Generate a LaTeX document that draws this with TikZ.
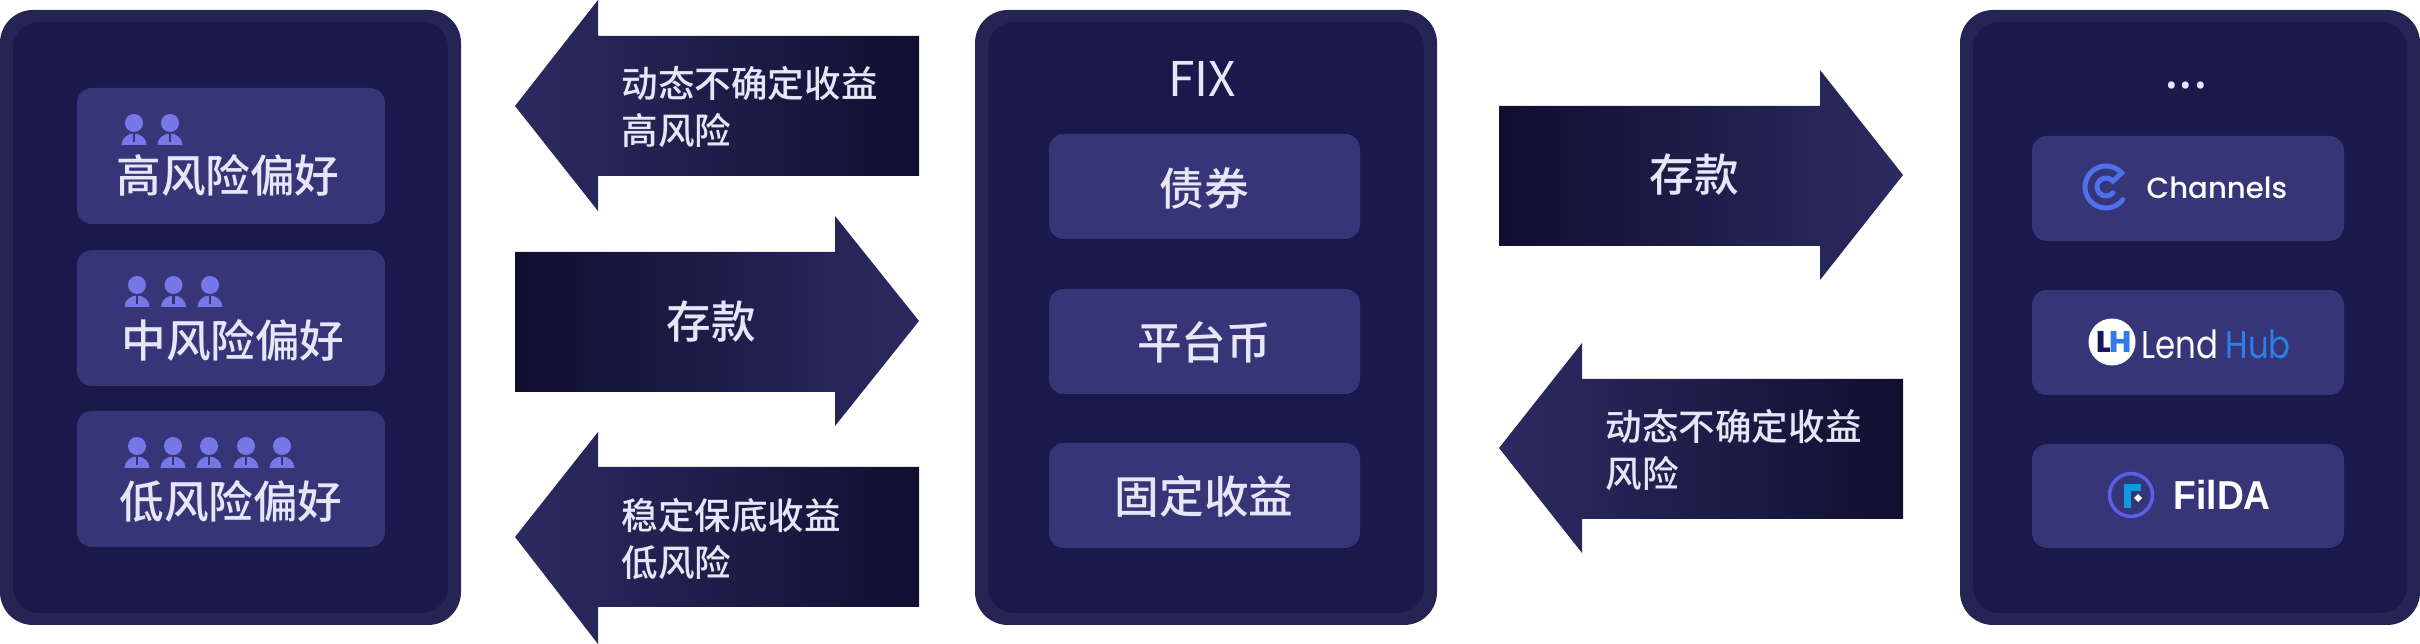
\documentclass[tikz,border=0pt]{standalone}
\usepackage{xcolor}
\usepackage{fontspec}
\setmainfont{Noto Sans CJK SC Medium}
\newfontfamily\titlefont{Noto Sans CJK SC}
\newfontfamily\logofont{Poppins Medium}
\newfontfamily\lendfont{Poppins}
\newfontfamily\fildafont{Liberation Sans}
\usepackage{tikz}
\usetikzlibrary{calc,positioning}
\definecolor{panelrim}{HTML}{242552}
\definecolor{panelfill}{HTML}{191A4B}
\definecolor{boxfill}{HTML}{353577}
\definecolor{labeltext}{HTML}{E6E6F8}
\definecolor{personfill}{HTML}{7678E8}
\definecolor{arrowhead}{HTML}{2B2B62}
\definecolor{arrowtail}{HTML}{100F30}
\definecolor{channelblue}{HTML}{4F70E8}
\definecolor{hubblue}{HTML}{2E7DE8}
\definecolor{lhnavy}{HTML}{17175C}
\definecolor{fildaring}{HTML}{5A5FE8}
\definecolor{fildablue}{HTML}{0A9BE0}
\tikzset{
  panelrimbox/.style={fill=panelrim,rounded corners=0.33cm},
  panelcore/.style={fill=panelfill,rounded corners=0.26cm},
  itembox/.style={fill=boxfill,rounded corners=0.15cm},
  biglabel/.style={text=labeltext,inner sep=0pt,font=\fontsize{12.7}{15}\selectfont},
  arrowlabel/.style={text=labeltext,inner sep=0pt,anchor=west,align=left,font=\fontsize{10.4}{13.6}\selectfont},
  pointleft/.style={left color=arrowhead,right color=arrowtail},
  pointright/.style={left color=arrowtail,right color=arrowhead},
}
\newcommand{\personicon}[2]{
  \fill[personfill] (#1,#2+0.22) circle (0.09);
  \fill[personfill] (#1-0.125,#2) arc (180:0:0.125 and 0.115) -- cycle;
  \draw[boxfill,line width=0.025cm] (#1,#2+0.115) -- (#1,#2+0.03);
}

\begin{document}
\begin{tikzpicture}
  \useasboundingbox (0,0) rectangle (24.2,6.44);
  % three panels
  \foreach \xa/\xb in {0/4.61,9.75/14.37,19.6/24.2} {
    \fill[panelrimbox] (\xa,0.19) rectangle (\xb,6.34);
    \fill[panelcore] (\xa+0.13,0.31) rectangle (\xb-0.13,6.22);
  }
  % left boxes
  \fill[itembox] (0.77,4.20) rectangle (3.85,5.56);
  \fill[itembox] (0.77,2.58) rectangle (3.85,3.94);
  \fill[itembox] (0.77,0.97) rectangle (3.85,2.33);
  \foreach \px in {1.34,1.70} {\personicon{\px}{4.99}}
  \foreach \px in {1.37,1.735,2.10} {\personicon{\px}{3.37}}
  \foreach \px in {1.37,1.73,2.09,2.46,2.82} {\personicon{\px}{1.76}}
  \node[biglabel] (riskhigh) at (2.28,4.69) {高风险偏好};
  \node[biglabel] (riskmid) at (2.33,3.04) {中风险偏好};
  \node[biglabel] (risklow) at (2.31,1.43) {低风险偏好};
  % middle panel
  \node[biglabel,font=\titlefont\fontsize{13.6}{15}\selectfont] (fixtitle) at (12.02,5.65) {FIX};
  \fill[itembox] (10.49,4.05) rectangle (13.60,5.10);
  \fill[itembox] (10.49,2.50) rectangle (13.60,3.55);
  \fill[itembox] (10.49,0.96) rectangle (13.60,2.01);
  \node[biglabel] (bonds) at (12.04,4.56) {债券};
  \node[biglabel] (token) at (12.04,3.02) {平台币};
  \node[biglabel] (fixedyield) at (12.04,1.48) {固定收益};
  % right panel
  \node[text=labeltext,inner sep=0pt,font=\titlefont\fontsize{15}{15}\selectfont] (moredots) at (21.86,5.58) {...};
  \fill[itembox] (20.32,4.03) rectangle (23.44,5.08);
  \fill[itembox] (20.32,2.49) rectangle (23.44,3.54);
  \fill[itembox] (20.32,0.96) rectangle (23.44,2.00);
  % channels logo
  \coordinate (chcentre) at (21.06,4.57);
  \draw[channelblue,line width=0.05cm,line cap=round] ([shift={(195:0.21)}]chcentre) arc (195:42:0.21)
    -- ([shift={(40:0.09)}]chcentre) arc (40:320:0.09);
  \draw[channelblue,line width=0.05cm,line cap=round] ([shift={(200:0.21)}]chcentre) arc (200:323:0.21);
  \node[inner sep=0pt,anchor=west,text=white,font=\logofont\fontsize{8.3}{10}\selectfont] (channels) at (21.46,4.56) {Channels};
  % lendhub logo
  \fill[white] (21.12,3.02) circle (0.235);
  \node[inner sep=0pt,text=lhnavy,font=\logofont\bfseries\fontsize{8.5}{10}\selectfont] (lhleft) at (21.04,3.02) {L};
  \node[inner sep=0pt,text=hubblue,font=\logofont\bfseries\fontsize{8.5}{10}\selectfont] (lhright) at (21.21,3.02) {H};
  \node[inner sep=0pt,anchor=west,text=white,xscale=0.84,font=\lendfont\fontsize{11}{12}\selectfont] (lend) at (21.41,3.00) {Lend};
  \node[inner sep=0pt,anchor=west,text=hubblue,xscale=0.84,font=\lendfont\fontsize{11}{12}\selectfont] (hub) at (22.25,3.00) {Hub};
  % filda logo
  \draw[fildaring,line width=0.035cm] (21.31,1.49) circle (0.215);
  \fill[fildablue] (21.24,1.36) rectangle (21.31,1.60);
  \fill[fildablue] (21.24,1.53) rectangle (21.41,1.60);
  \fill[white] (21.38,1.50) -- (21.42,1.46) -- (21.38,1.42) -- (21.34,1.46) -- cycle;
  \node[inner sep=0pt,anchor=west,text=white,xscale=0.92,font=\fildafont\bfseries\fontsize{11.5}{12}\selectfont] (filda) at (21.73,1.49) {FilDA};
  % arrows left column
  \shade[pointleft] (5.15,5.38) -- (5.98,6.44) -- (5.98,6.08) -- (9.19,6.08) -- (9.19,4.68) -- (5.98,4.68) -- (5.98,4.33) -- cycle;
  \node[arrowlabel] (dynhigh) at (6.21,5.37) {动态不确定收益\\高风险};
  \shade[pointright] (5.15,3.92) -- (8.35,3.92) -- (8.35,4.28) -- (9.19,3.23) -- (8.35,2.18) -- (8.35,2.52) -- (5.15,2.52) -- cycle;
  \node[biglabel] (depositleft) at (7.11,3.22) {存款};
  \shade[pointleft] (5.15,1.07) -- (5.98,2.12) -- (5.98,1.77) -- (9.19,1.77) -- (9.19,0.37) -- (5.98,0.37) -- (5.98,0) -- cycle;
  \node[arrowlabel] (stablelow) at (6.21,1.05) {稳定保底收益\\低风险};
  % arrows right column
  \shade[pointright] (14.99,5.38) -- (18.20,5.38) -- (18.20,5.74) -- (19.03,4.69) -- (18.20,3.64) -- (18.20,3.98) -- (14.99,3.98) -- cycle;
  \node[biglabel] (depositright) at (16.94,4.69) {存款};
  \shade[pointleft] (14.99,1.96) -- (15.82,3.01) -- (15.82,2.65) -- (19.03,2.65) -- (19.03,1.25) -- (15.82,1.25) -- (15.82,0.91) -- cycle;
  \node[arrowlabel] (dynrisk) at (16.05,1.94) {动态不确定收益\\风险};
\end{tikzpicture}
\end{document}
